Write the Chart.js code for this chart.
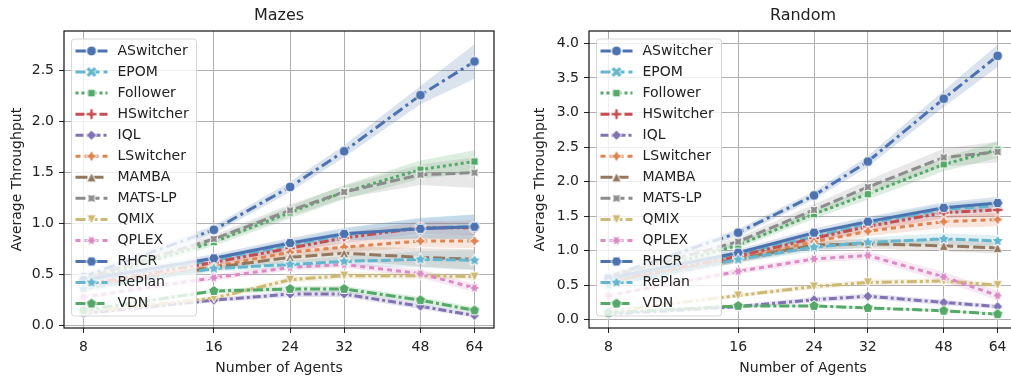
<!DOCTYPE html>
<html>
<head>
<meta charset="utf-8">
<script src="https://cdn.jsdelivr.net/npm/chart.js@4.4.1/dist/chart.umd.min.js"></script>
<style>
  html, body { margin: 0; padding: 0; background: #fff; overflow: hidden; width: 1011px; height: 379px; }
  .panel { position: absolute; top: 0; height: 379px; width: 505px; }
</style>
</head>
<body>
<div class="panel" style="left:0"><canvas id="mazes"></canvas></div>
<div class="panel" style="left:520px"><canvas id="random"></canvas></div>
<script>
// x values (number of agents) and series names
const agentCounts = [8, 16, 24, 32, 48, 64];
const seriesNames = ['ASwitcher', 'EPOM', 'Follower', 'HSwitcher', 'IQL', 'LSwitcher', 'MAMBA',
  'MATS-LP', 'QMIX', 'QPLEX', 'RHCR', 'RePlan', 'VDN'];

const mazesTicks = [0, 0.5, 1.0, 1.5, 2.0, 2.5];
const randomTicks = [0, 0.5, 1.0, 1.5, 2.0, 2.5, 3.0, 3.5, 4.0];

// Mazes: mean throughput per series (same order as seriesNames)
const mazesMean = [
  [0.48, 0.94, 1.36, 1.71, 2.26, 2.59],
  [0.44, 0.64, 0.79, 0.89, 0.96, 0.97],
  [0.43, 0.82, 1.11, 1.31, 1.53, 1.61],
  [0.40, 0.62, 0.76, 0.86, 0.96, 0.96],
  [0.12, 0.25, 0.31, 0.31, 0.19, 0.10],
  [0.38, 0.58, 0.72, 0.77, 0.83, 0.83],
  [0.38, 0.57, 0.67, 0.71, 0.67, 0.65],
  [0.46, 0.85, 1.13, 1.31, 1.48, 1.50],
  [0.13, 0.27, 0.45, 0.49, 0.49, 0.48],
  [0.28, 0.47, 0.57, 0.60, 0.51, 0.37],
  [0.45, 0.66, 0.81, 0.90, 0.95, 0.97],
  [0.36, 0.56, 0.60, 0.63, 0.65, 0.64],
  [0.15, 0.34, 0.36, 0.36, 0.25, 0.15]
];
// Mazes: half width of the shaded band
const mazesSpread = [
  [0.04, 0.04, 0.05, 0.06, 0.09, 0.17],
  [0.03, 0.04, 0.05, 0.06, 0.10, 0.12],
  [0.03, 0.04, 0.06, 0.07, 0.09, 0.11],
  [0.03, 0.03, 0.04, 0.05, 0.06, 0.07],
  [0.02, 0.02, 0.03, 0.03, 0.03, 0.02],
  [0.03, 0.03, 0.04, 0.05, 0.06, 0.07],
  [0.03, 0.03, 0.05, 0.07, 0.09, 0.10],
  [0.03, 0.04, 0.06, 0.06, 0.10, 0.15],
  [0.02, 0.02, 0.03, 0.03, 0.03, 0.03],
  [0.02, 0.03, 0.03, 0.03, 0.04, 0.04],
  [0.03, 0.04, 0.05, 0.06, 0.10, 0.12],
  [0.03, 0.03, 0.04, 0.05, 0.08, 0.10],
  [0.02, 0.02, 0.03, 0.03, 0.03, 0.03]
];

// Random
const randomMean = [
  [0.62, 1.26, 1.80, 2.29, 3.20, 3.82],
  [0.55, 0.95, 1.20, 1.40, 1.60, 1.65],
  [0.55, 1.08, 1.53, 1.82, 2.25, 2.46],
  [0.55, 0.92, 1.18, 1.35, 1.55, 1.59],
  [0.08, 0.19, 0.29, 0.34, 0.25, 0.19],
  [0.52, 0.88, 1.13, 1.28, 1.42, 1.45],
  [0.55, 0.88, 1.08, 1.10, 1.07, 1.04],
  [0.62, 1.13, 1.59, 1.92, 2.35, 2.43],
  [0.12, 0.35, 0.48, 0.54, 0.56, 0.50],
  [0.35, 0.70, 0.88, 0.93, 0.62, 0.35],
  [0.60, 0.97, 1.26, 1.42, 1.62, 1.69],
  [0.50, 0.87, 1.05, 1.12, 1.17, 1.14],
  [0.10, 0.20, 0.20, 0.17, 0.13, 0.08]
];
const randomSpread = [
  [0.04, 0.05, 0.06, 0.08, 0.12, 0.16],
  [0.04, 0.05, 0.06, 0.07, 0.08, 0.09],
  [0.04, 0.05, 0.07, 0.08, 0.10, 0.12],
  [0.04, 0.05, 0.06, 0.07, 0.08, 0.09],
  [0.02, 0.03, 0.04, 0.04, 0.04, 0.03],
  [0.04, 0.05, 0.06, 0.07, 0.09, 0.10],
  [0.04, 0.05, 0.06, 0.07, 0.08, 0.08],
  [0.04, 0.06, 0.08, 0.10, 0.13, 0.15],
  [0.02, 0.03, 0.04, 0.04, 0.04, 0.04],
  [0.03, 0.04, 0.05, 0.06, 0.07, 0.07],
  [0.04, 0.05, 0.06, 0.07, 0.08, 0.09],
  [0.04, 0.05, 0.06, 0.07, 0.08, 0.08],
  [0.02, 0.02, 0.02, 0.02, 0.02, 0.02]
];

// styles (seaborn "deep" colours)
const colors = ['#4C72B0', '#64B5CD', '#55A868', '#C44E52', '#8172B3', '#DD8452', '#937860',
  '#8C8C8C', '#CCB974', '#DA8BC3', '#4C72B0', '#64B5CD', '#55A868'];
const dashes = [[11, 4, 3, 4], [10, 4], [3, 3], [9, 3, 3, 3, 3, 3], [8, 3, 3, 3], [5, 4], [12, 4],
  [10, 4], [10, 3, 3, 3, 3, 3], [5, 4], [], [10, 3], [10, 3, 3, 3]];
const shapes = ['o', 'X', 's', 'P', 'D', '4s', '^', '4x', 'v', '6s', 'h', '5s', 'p'];

Chart.defaults.font.family = "'DejaVu Sans', sans-serif";
Chart.defaults.font.size = 14;
Chart.defaults.color = '#222';

function regular(n, r, ang, star) {
  const pts = [];
  const m = star ? 2 * n : n;
  for (let k = 0; k < m; k++) {
    const t = Math.PI / 2 + ang * Math.PI / 180 + k * 2 * Math.PI / m;
    const rr = star && k % 2 ? r * 0.5 : r;
    pts.push([rr * Math.cos(t), -rr * Math.sin(t)]);
  }
  return pts;
}
function plus(r, rot) {
  const t = r / 3;
  const base = [[-t, -r], [t, -r], [t, -t], [r, -t], [r, t], [t, t], [t, r], [-t, r], [-t, t], [-r, t], [-r, -t], [-t, -t]];
  const c = Math.cos(rot), s = Math.sin(rot);
  return base.map(([x, y]) => [x * c - y * s, x * s + y * c]);
}
function makeMarker(shape, color) {
  const c = document.createElement('canvas');
  c.width = 16; c.height = 16;
  const g = c.getContext('2d');
  g.translate(8, 8);
  g.beginPath();
  let pts = null;
  if (shape === 'o') g.arc(0, 0, 5, 0, Math.PI * 2);
  else if (shape === 'X') pts = plus(5.8, Math.PI / 4);
  else if (shape === 'P') pts = plus(5.3, 0);
  else if (shape === 's') pts = regular(4, 5.4, 45, false);
  else if (shape === 'D') pts = regular(4, 5.2, 0, false);
  else if (shape === '4s') pts = regular(4, 6, 0, true);
  else if (shape === '4x') pts = regular(4, 6, 45, true);
  else if (shape === '^') pts = [[0, -4.8], [-4.8, 4.8], [4.8, 4.8]];
  else if (shape === 'v') pts = [[0, 4.8], [-4.8, -4.8], [4.8, -4.8]];
  else if (shape === '6s') pts = regular(6, 6, 30, true);
  else if (shape === 'h') pts = regular(6, 5.4, 30, false);
  else if (shape === '5s') pts = regular(5, 6.3, 0, true);
  else if (shape === 'p') pts = regular(5, 5.5, 0, false);
  if (pts) pts.forEach(([x, y], k) => k ? g.lineTo(x, y) : g.moveTo(x, y));
  g.closePath();
  g.fillStyle = color;
  g.fill();
  g.strokeStyle = '#fff';
  g.lineWidth = 1;
  g.stroke();
  return c;
}
const markers = shapes.map((s, i) => makeMarker(s, colors[i]));

function rgba(hex, a) {
  const n = parseInt(hex.slice(1), 16);
  return `rgba(${n >> 16},${(n >> 8) & 255},${n & 255},${a})`;
}

// frame + legend box drawn on top of the plot area
const overlayPlugin = {
  id: 'overlay',
  afterDatasetsDraw(chart) {
    const ctx = chart.ctx, a = chart.chartArea;
    ctx.save();
    ctx.strokeStyle = '#111';
    ctx.lineWidth = 1.2;
    ctx.strokeRect(a.left, a.top, a.right - a.left, a.bottom - a.top);
    ctx.restore();
  },
  afterDraw(chart) {
    const ctx = chart.ctx, a = chart.chartArea;
    const x0 = a.left + 7.5, y0 = a.top + 8, w = 125, h = 277;
    ctx.save();
    ctx.beginPath();
    ctx.roundRect(x0, y0, w, h, 3);
    ctx.fillStyle = 'rgba(255,255,255,0.8)';
    ctx.fill();
    ctx.strokeStyle = 'rgba(204,204,204,0.8)';
    ctx.lineWidth = 1;
    ctx.stroke();
    ctx.font = "14px 'DejaVu Sans', sans-serif";
    ctx.textBaseline = 'middle';
    seriesNames.forEach((name, i) => {
      const cy = y0 + 12 + i * 21.05;
      ctx.beginPath();
      ctx.setLineDash(dashes[i]);
      ctx.strokeStyle = colors[i];
      ctx.lineWidth = 3;
      ctx.moveTo(x0 + 4, cy);
      ctx.lineTo(x0 + 36, cy);
      ctx.stroke();
      ctx.setLineDash([]);
      ctx.drawImage(markers[i], x0 + 20 - 8, cy - 8);
      ctx.fillStyle = '#222';
      ctx.fillText(name, x0 + 46, cy);
    });
    ctx.restore();
  }
};

function makePanel(id, title, means, spreads, yTicks, yMin, yMax, yWidth, yTitlePad, padRight) {
  const pts = vals => agentCounts.map((a, j) => ({ x: a, y: vals[j] }));
  const datasets = [];
  seriesNames.forEach((name, i) => {
    datasets.push({
      label: name + ' low', data: pts(means[i].map((m, j) => m - spreads[i][j])),
      borderColor: 'rgba(0,0,0,0)', borderWidth: 0, pointRadius: 0, fill: false, order: 200
    });
    datasets.push({
      label: name + ' high', data: pts(means[i].map((m, j) => m + spreads[i][j])),
      borderColor: 'rgba(0,0,0,0)', borderWidth: 0, pointRadius: 0, fill: '-1',
      backgroundColor: rgba(colors[i], 0.2), order: 200
    });
  });
  seriesNames.forEach((name, i) => {
    datasets.push({
      label: name, data: pts(means[i]),
      borderColor: colors[i], backgroundColor: colors[i], borderWidth: 3, borderDash: dashes[i],
      pointStyle: markers[i], pointRadius: 5, fill: false, tension: 0, order: 50 - i
    });
  });

  return new Chart(document.getElementById(id).getContext('2d'), {
    type: 'line',
    data: { datasets },
    plugins: [overlayPlugin],
    options: {
      responsive: true,
      maintainAspectRatio: false,
      animation: false,
      events: [],
      layout: { padding: { left: 0, right: padRight, top: 0, bottom: 0 } },
      plugins: {
        legend: { display: false },
        tooltip: { enabled: false },
        filler: { drawTime: 'beforeDatasetsDraw' },
        title: {
          display: true, text: title, fullSize: false,
          font: { size: 16, weight: 'normal' }, color: '#222',
          padding: { top: 6, bottom: 5.8 }
        }
      },
      scales: {
        x: {
          type: 'logarithmic', min: 7.21, max: 71.0, bounds: 'data',
          afterBuildTicks: s => { s.ticks = agentCounts.map(v => ({ value: v })); },
          afterFit: s => { s.height = 51; },
          ticks: { callback: v => String(v), maxRotation: 0, autoSkip: false, padding: 6, color: '#222' },
          grid: { color: '#b0b0b0', lineWidth: 1, tickLength: 5, tickColor: '#222' },
          border: { display: false },
          title: { display: true, text: 'Number of Agents', color: '#222', padding: { top: 0, bottom: 2 } }
        },
        y: {
          type: 'linear', min: yMin, max: yMax, bounds: 'data',
          afterBuildTicks: s => { s.ticks = yTicks.map(v => ({ value: v })); },
          afterFit: s => { s.width = yWidth; },
          ticks: { callback: v => Number(v).toFixed(1), padding: 5, color: '#222' },
          grid: { color: '#b0b0b0', lineWidth: 1, tickLength: 5, tickColor: '#222' },
          border: { display: false },
          title: { display: true, text: 'Average Throughput', color: '#222', padding: { top: yTitlePad, bottom: 0 } }
        }
      }
    }
  });
}

makePanel('mazes', 'Mazes', mazesMean, mazesSpread, mazesTicks, -0.023, 2.889, 64, 8.6, 11);
makePanel('random', 'Random', randomMean, randomSpread, randomTicks, -0.12, 4.18, 69, 11.6, 8);
</script>
</body>
</html>
